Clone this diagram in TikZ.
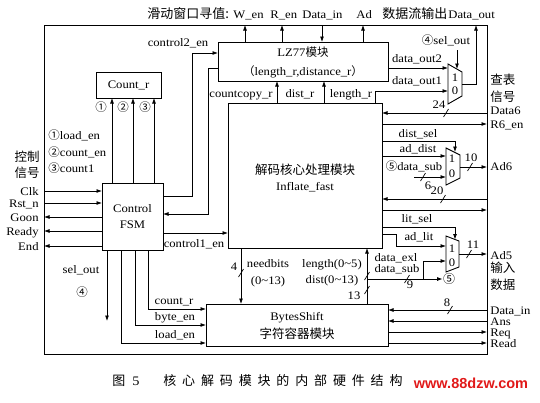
\documentclass[tikz,border=0pt]{standalone}
\usepackage{fontspec}
\setmainfont{Liberation Serif}[FakeStretch=1.1]
\newfontfamily\cjk{Noto Sans CJK SC}
\newfontfamily\wmfont{Liberation Sans}
\usetikzlibrary{arrows.meta}
\definecolor{wmred}{RGB}{225,25,25}
\begin{document}
\begin{tikzpicture}[x=1pt,y=-1pt,line width=0.8pt,
  >={Latex[length=5.5pt,width=4pt]},
  box/.style={draw,line width=0.9pt,inner sep=0pt,outer sep=0pt,anchor=north west,
    font=\fontsize{11.5}{16}\selectfont,align=center},
  t/.style={font=\fontsize{11.5}{13}\selectfont,inner sep=0pt,anchor=base},
  tw/.style={t,anchor=base west},
  te/.style={t,anchor=base east},
  c/.style={font=\cjk\fontsize{12.5}{14}\selectfont,inner sep=0pt,anchor=base},
  cw/.style={c,anchor=base west},
  slashmk/.pic={\draw[line width=0.7pt] (-2.5,4) -- (2.5,-4);}]
\useasboundingbox (0,0) rectangle (540,402);

% ---------- boxes ----------
\node[box,minimum width=443pt,minimum height=329pt] (frame) at (44,25) {};
\node[box,minimum width=170pt,minimum height=39pt] (lz) at (218,42) {};
\node[box,minimum width=65pt,minimum height=26pt] (cnt) at (96,72) {Count\_r};
\node[box,minimum width=61pt,minimum height=67pt] (fsm) at (102,183) {Control\\FSM};
\node[box,minimum width=154pt,minimum height=145pt] (inf) at (228,103) {};
\node[box,minimum width=182pt,minimum height=42pt] (bs) at (206,304) {};

% multiplexers
\draw[line width=0.9pt] (448,64) -- (462,72) -- (462,96) -- (448,104) -- cycle;
\draw[line width=0.9pt] (446,148) -- (460,155) -- (460,178) -- (446,185) -- cycle;
\draw[line width=0.9pt] (446,236) -- (459,241) -- (459,267) -- (446,272) -- cycle;

% ---------- coordinates ----------
\coordinate (xW) at (245,0);
\coordinate (xR) at (282,0);
\coordinate (xDI) at (322,0);
\coordinate (xAd) at (363,0);
\coordinate (m1o) at (462,84);
\coordinate (xDO) at (476,84);
\coordinate (m1in1) at (448,68);
\coordinate (lr) at (375,91);
\coordinate (m1in0) at (448,91);
\coordinate (so1) at (457,50);
\coordinate (so2) at (457,69);
\coordinate (v1) at (277,0);
\coordinate (v2) at (324,0);
\coordinate (c2a) at (192,196);
\coordinate (c2b) at (192,53);
\coordinate (fba) at (208,68);
\coordinate (fbb) at (208,214);
\coordinate (c1) at (0,233);
\coordinate (u1) at (112,0);
\coordinate (u2) at (133,0);
\coordinate (u3) at (154,0);
\coordinate (lClk) at (0,191);
\coordinate (lRst) at (0,203);
\coordinate (lGo) at (0,217);
\coordinate (lRdy) at (0,231);
\coordinate (lEnd) at (0,246);
\coordinate (b1) at (107,321);
\coordinate (b2) at (121,343);
\coordinate (b3) at (135,325);
\coordinate (b4) at (148,309);
\coordinate (rD6) at (0,113);
\coordinate (rR6) at (0,124);
\coordinate (ds) at (455,141);
\coordinate (dsT) at (455,152);
\coordinate (m2in1) at (446,156);
\coordinate (dsub) at (414,177);
\coordinate (m2in0) at (446,177);
\coordinate (m2o) at (460,167);
\coordinate (r20) at (0,199);
\coordinate (r21) at (0,210);
\coordinate (ls) at (455,227);
\coordinate (lsT) at (455,239.5);
\coordinate (al1) at (396,234);
\coordinate (al2) at (396,246);
\coordinate (m3in1) at (446,246);
\coordinate (m3o) at (459,254);
\coordinate (ex1) at (423,279);
\coordinate (ex2) at (423,261);
\coordinate (m3in0) at (446,261);
\coordinate (j9) at (367,279);
\coordinate (v3) at (367,0);
\coordinate (v4) at (241,0);
\coordinate (rBD) at (0,310);
\coordinate (rAns) at (0,321);
\coordinate (rReq) at (0,332);
\coordinate (rRd) at (0,343);

\node[font=\cjk\fontsize{12}{14}\selectfont,inner sep=0pt] (c5) at (449,279) {⑤};

% ---------- connectors ----------
% top
\draw[->] (lz.north -| xW) -- (frame.north -| xW);
\draw[->] (lz.north -| xR) -- (frame.north -| xR);
\draw[->] (frame.north -| xDI) -- (lz.north -| xDI);
\draw[->] (lz.north -| xAd) -- (frame.north -| xAd);
\draw[->] (m1o) -- (xDO) -- (frame.north -| xDO);
\draw[->] (lz.east |- m1in1) -- (m1in1);
\draw[->] (inf.north -| lr) -- (lr) -- (m1in0);
\draw[->] (so1) -- (so2);
\draw[->] (inf.north -| v1) -- (lz.south -| v1);
\draw[->] (inf.north -| v2) -- (lz.south -| v2);
% FSM
\draw[->] (fsm.east |- c2a) -- (c2a) -- (c2b) -- (lz.west |- c2b);
\draw[->] (lz.west |- fba) -- (fba) -- (fbb) -- (fsm.east |- fbb);
\draw[->] (fsm.east |- c1) -- (inf.west |- c1);
\draw[->] (fsm.north -| u1) -- (cnt.south -| u1);
\draw[->] (fsm.north -| u2) -- (cnt.south -| u2);
\draw[->] (fsm.north -| u3) -- (cnt.south -| u3);
\draw[->] (frame.west |- lClk) -- (fsm.west |- lClk);
\draw[->] (frame.west |- lRst) -- (fsm.west |- lRst);
\draw[->] (fsm.west |- lGo) -- (frame.west |- lGo);
\draw[->] (fsm.west |- lRdy) -- (frame.west |- lRdy);
\draw[->] (fsm.west |- lEnd) -- (frame.west |- lEnd);
\draw[->] (fsm.south -| b1) -- (b1);
\draw[->] (fsm.south -| b2) -- (b2) -- (bs.west |- b2);
\draw[->] (fsm.south -| b3) -- (b3) -- (bs.west |- b3);
\draw[->] (fsm.south -| b4) -- (b4) -- (bs.west |- b4);
% right side
\draw[->] (frame.east |- rD6) -- (inf.east |- rD6);
\draw[->] (inf.east |- rR6) -- (frame.east |- rR6);
\draw[->] (inf.east |- ds) -- (ds) -- (dsT);
\draw[->] (inf.east |- m2in1) -- (m2in1);
\draw[->] (dsub) -- (m2in0);
\draw[->] (m2o) -- (frame.east |- m2o);
\draw[->] (frame.east |- r20) -- (inf.east |- r20);
\draw[->] (inf.east |- r21) -- (frame.east |- r21);
\draw[->] (inf.east |- ls) -- (ls) -- (lsT);
\draw[->] (inf.east |- al1) -- (al1) -- (al2) -- (m3in1);
\draw[->] (m3o) -- (frame.east |- m3o);
\draw[->] (ex1) -- (ex2) -- (m3in0);
\draw[->] (j9) -- (c5);
\draw[->] (bs.north -| v3) -- (inf.south -| v3);
\draw[->] (inf.south -| v4) -- (bs.north -| v4);
\draw[->] (frame.east |- rBD) -- (bs.east |- rBD);
\draw[->] (frame.east |- rAns) -- (bs.east |- rAns);
\draw[->] (bs.east |- rReq) -- (frame.east |- rReq);
\draw[->] (bs.east |- rRd) -- (frame.east |- rRd);

% bus slashes
\foreach \p in {(446,113),(423,177),(470,167),(443,199),(469,254),(407,279),(367,276),(367,290),(241,273),(450,310)}
  \pic at \p {slashmk};

% ---------- labels ----------
% top row
\node[cw,font=\cjk\fontsize{13}{14}\selectfont] at (147,18) {滑动窗口寻值:};
\node[tw] at (233,18) {W\_en};
\node[tw] at (270,18) {R\_en};
\node[tw] at (302,18) {Data\_in};
\node[tw] at (356,18) {Ad};
\node[cw,font=\cjk\fontsize{13}{14}\selectfont] at (382,18) {数据流输出};
\node[tw] at (448,18) {Data\_out};

% LZ77
\node[t] at (303,56) {LZ77{\cjk 模块}};
\node[t] at (303,75) {{\cjk （}length\_r,distance\_r{\cjk ）}};
\node[t] at (241,97) {countcopy\_r};
\node[t] at (300,97) {dist\_r};
\node[t] at (351,97) {length\_r};
\node[t] at (178,46) {control2\_en};
\node[t] at (417,62) {data\_out2};
\node[t] at (417,84) {data\_out1};
\node[t] at (446,44) {{\cjk ④}sel\_out};
\node[t] at (455,81) {1};
\node[t] at (455,94) {0};
\node[t] at (439,108) {24};

% left
\node[c] at (27,161.5) {控制};
\node[c] at (27,177.5) {信号};
\node[te] at (39,195) {Clk};
\node[te] at (39,207) {Rst\_n};
\node[te] at (39,221) {Goon};
\node[te] at (39,235) {Ready};
\node[te] at (39,250) {End};
\node[tw] at (48,139) {{\cjk ①}load\_en};
\node[tw] at (48,156) {{\cjk ②}count\_en};
\node[tw] at (48,172) {{\cjk ③}count1};
\node[t] at (101,111) {{\cjk ①}};
\node[t] at (123,111) {{\cjk ②}};
\node[t] at (145,111) {{\cjk ③}};
\node[t] at (194,247) {control1\_en};
\node[t] at (81,273) {sel\_out};
\node[t] at (82,296) {{\cjk ④}};
\node[t] at (174,304) {count\_r};
\node[t] at (175,320) {byte\_en};
\node[t] at (175,338) {load\_en};

% inflate
\node[c] at (305,174) {解码核心处理模块};
\node[t] at (305,190) {Inflate\_fast};
\node[t] at (268,267) {needbits};
\node[t] at (268,284) {(0\textasciitilde13)};
\node[t] at (234,270) {4};
\node[t] at (332,267) {length(0\textasciitilde5)};
\node[t] at (332,283) {dist(0\textasciitilde13)};
\node[t] at (354,299) {13};

% right inner labels
\node[t] at (418,137) {dist\_sel};
\node[t] at (418,152) {ad\_dist};
\node[t] at (414,170) {{\cjk ⑤}data\_sub};
\node[t] at (452,162) {1};
\node[t] at (452,177) {0};
\node[t] at (471,161) {10};
\node[t] at (428,189) {6};
\node[t] at (437,194) {20};
\node[t] at (417,222) {lit\_sel};
\node[t] at (419,240) {ad\_lit};
\node[t] at (452,252) {1};
\node[t] at (452,266) {0};
\node[t] at (473,248) {11};
\node[t] at (396,261) {data\_exl};
\node[t] at (397,272) {data\_sub};
\node[t] at (410,288) {9};
\node[t] at (447,306) {8};

% bytes shift
\node[t] at (297,320) {BytesShift};
\node[c] at (297,338) {字符容器模块};

% right outside
\node[cw] at (490,84) {查表};
\node[cw] at (490,101) {信号};
\node[tw] at (490,114) {Data6};
\node[tw] at (490,128) {R6\_en};
\node[tw] at (490,170) {Ad6};
\node[tw] at (490,259) {Ad5};
\node[cw] at (490,272) {输入};
\node[cw] at (490,289) {数据};
\node[tw] at (490,314) {Data\_in};
\node[tw] at (490,325) {Ans};
\node[tw] at (490,336) {Req};
\node[tw] at (490,347) {Read};

% caption
\node[inner sep=0pt,anchor=base west,font=\fontsize{13}{15}\selectfont] at (112,385) {{\cjk 图}\hspace{7pt}5};
\node[inner sep=0pt,anchor=base west,font=\cjk\fontsize{13}{15}\selectfont] at (163,385)
  {\addfontfeature{LetterSpace=45}核心解码模块的内部硬件结构};
\node[inner sep=0pt,anchor=base,text=wmred,font=\wmfont\bfseries\fontsize{14.5}{16}\selectfont] at (471,388) {www.88dzw.com};
\end{tikzpicture}
\end{document}
